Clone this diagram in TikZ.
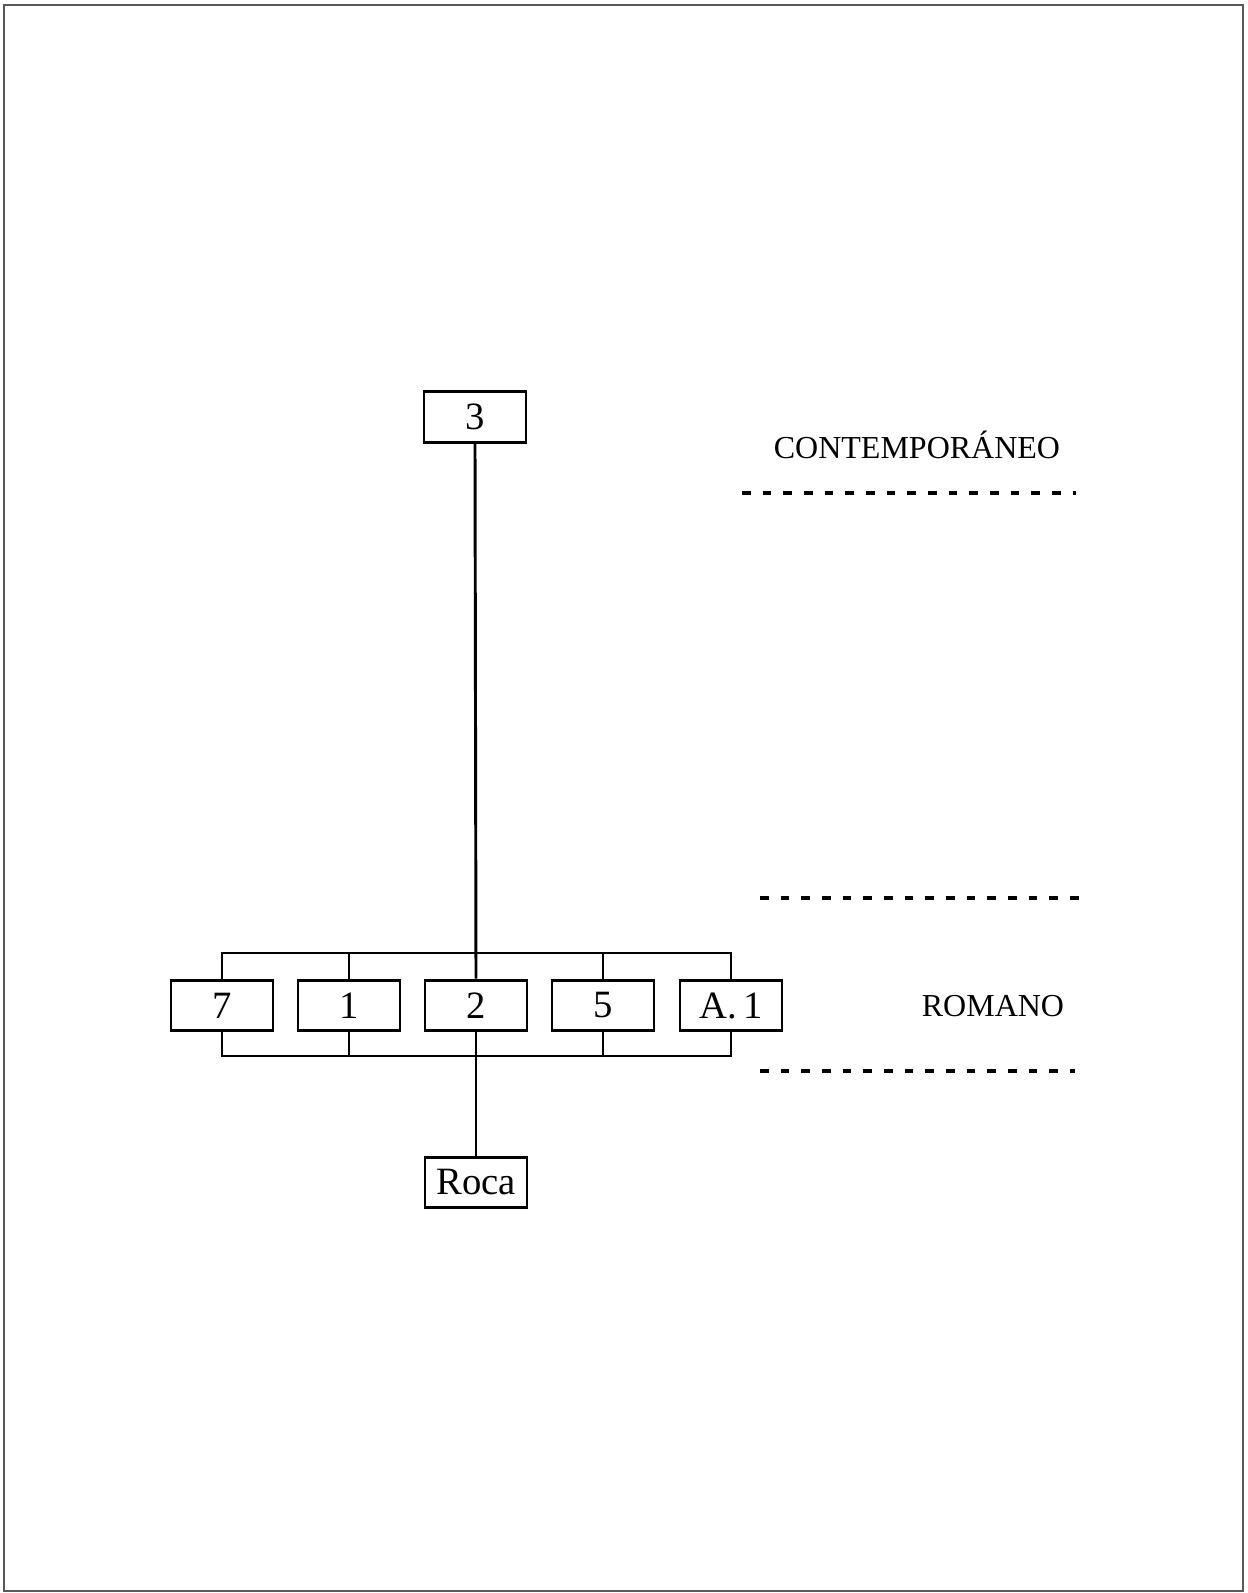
\documentclass[tikz,border=0pt]{standalone}
\usepackage{fontspec}
\setmainfont{Liberation Serif}
\begin{document}
\begin{tikzpicture}[x=0.75pt,y=-0.75pt,
  box/.style={draw, line width=2.2pt, minimum width=76.5pt, minimum height=38pt, inner sep=0pt, font=\fontsize{29}{33}\selectfont},
  conn/.style={line width=2.2pt},
  lbl/.style={font=\fontsize{24}{28}\selectfont, inner sep=0pt},
  dashline/.style={line width=2.4pt, dash pattern=on 6.5pt off 9pt}]
\useasboundingbox (0,0) rectangle (1247,1593);
\draw[line width=1.4pt, black!65] (4,5) rectangle (1243,1591);

\node[box] (n3) at (475,417) {3};
\node[box] (b7) at (222,1005.5) {7};
\node[box] (b1) at (349,1005.5) {1};
\node[box] (b2) at (476,1005.5) {2};
\node[box] (b5) at (603,1005.5) {5};
\node[box] (bA) at (731,1005.5) {A.\,1};
\node[box] (roca) at (476,1182.5) {Roca};

\coordinate (topbus) at (476,953);
\coordinate (botbus) at (476,1056);

\draw[conn] (n3.south) -- (b2.north);
\draw[conn] (b7.north) |- (topbus) -| (bA.north);
\draw[conn] (b1.north) -- (b1.north |- topbus);
\draw[conn] (b5.north) -- (b5.north |- topbus);
\draw[conn] (b7.south) |- (botbus) -| (bA.south);
\draw[conn] (b1.south) -- (b1.south |- botbus);
\draw[conn] (b5.south) -- (b5.south |- botbus);
\draw[conn] (b2.south) -- (roca.north);

\node[lbl] (cont) at (917,445) {CONTEMPORÁNEO};
\node[lbl] (rom) at (993,1006) {ROMANO};

\coordinate (d1a) at (742,493);
\coordinate (d1b) at (1076,493);
\coordinate (d2a) at (760,898);
\coordinate (d2b) at (1090,898);
\coordinate (d3a) at (760,1071);
\coordinate (d3b) at (1075,1071);
\draw[dashline] (d1a) -- (d1b);
\draw[dashline] (d2a) -- (d2b);
\draw[dashline] (d3a) -- (d3b);
\end{tikzpicture}
\end{document}
